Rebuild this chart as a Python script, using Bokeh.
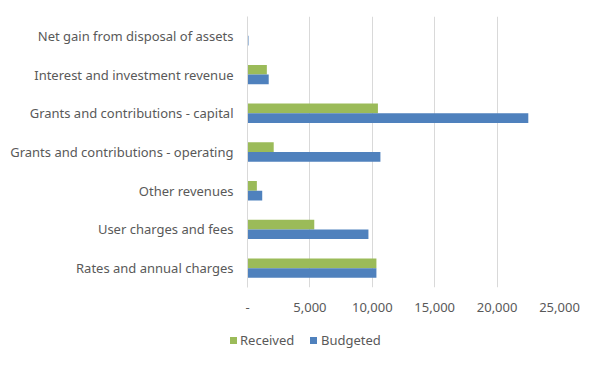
from bokeh.plotting import figure
from bokeh.layouts import column
from bokeh.models import FactorRange, Range1d, NumeralTickFormatter, FixedTicker, ColumnDataSource, Div
from bokeh.transform import dodge
from bokeh.embed import file_html
from bokeh.resources import INLINE

categories = [
    "Rates and annual charges",
    "User charges and fees",
    "Other revenues",
    "Grants and contributions - operating",
    "Grants and contributions - capital",
    "Interest and investment revenue",
    "Net gain from disposal of assets",
]
received = [10330, 5350, 750, 2100, 10450, 1550, 0]
budgeted = [10330, 9690, 1180, 10650, 22500, 1700, 80]
x_ticks = [0, 5000, 10000, 15000, 20000, 25000]
series_names = ["Received", "Budgeted"]

GREEN = "#9BBB59"
BLUE = "#4F81BD"
TEXT = "#595959"
FONT = "Noto Sans"

src = ColumnDataSource(dict(cat=categories, received=received, budgeted=budgeted))

p = figure(
    width=600, height=325,
    frame_width=312, frame_height=271,
    y_range=FactorRange(factors=categories, range_padding=0),
    x_range=Range1d(0, 25000),
    output_backend="svg", toolbar_location=None,
    min_border_left=247, min_border_right=41, min_border_top=16, min_border_bottom=38,
)
p.outline_line_color = None
p.background_fill_color = "white"
p.border_fill_color = "white"

p.hbar(y=dodge("cat", 0.125, range=p.y_range), right="received", left=0, height=0.25,
       source=src, fill_color=GREEN, line_color=None)
p.hbar(y=dodge("cat", -0.125, range=p.y_range), right="budgeted", left=0, height=0.25,
       source=src, fill_color=BLUE, line_color=None)

p.xgrid.grid_line_color = "#D9D9D9"
p.xgrid.ticker = FixedTicker(ticks=x_ticks)
p.ygrid.grid_line_color = None

xa = p.xaxis[0]
xa.ticker = FixedTicker(ticks=x_ticks)
xa.formatter = NumeralTickFormatter(format="0,0")
xa.major_label_overrides = {0: "-"}
xa.axis_line_color = None
xa.major_tick_line_color = None
xa.minor_tick_line_color = None
xa.major_label_text_color = TEXT
xa.major_label_text_font = FONT
xa.major_label_text_font_size = "13px"
xa.major_label_standoff = 9

ya = p.yaxis[0]
ya.axis_line_color = "#D9D9D9"
ya.major_tick_line_color = None
ya.minor_tick_line_color = None
ya.major_label_text_color = TEXT
ya.major_label_text_font = FONT
ya.major_label_text_font_size = "13px"
ya.major_label_standoff = 8

# legend strip (HTML)
def sq(left, color):
    return (f'<span style="position:absolute;left:{left}px;top:12px;width:7px;height:7px;'
            f'background:{color};"></span>')

def lab(left, txt):
    return (f'<span style="position:absolute;left:{left}px;top:7px;line-height:16px;'
            f'font-family:\'{FONT}\';font-size:13px;color:{TEXT};white-space:nowrap;">{txt}</span>')

html = ('<div style="position:relative;width:600px;height:36px;background:white;">'
        + sq(230, GREEN) + lab(240, series_names[0])
        + sq(310, BLUE) + lab(321, series_names[1])
        + '</div>')
leg = Div(text=html, width=600, height=36, styles={"margin": "0", "padding": "0"})

open("out.html", "w").write(file_html(column(p, leg, spacing=0), INLINE))
